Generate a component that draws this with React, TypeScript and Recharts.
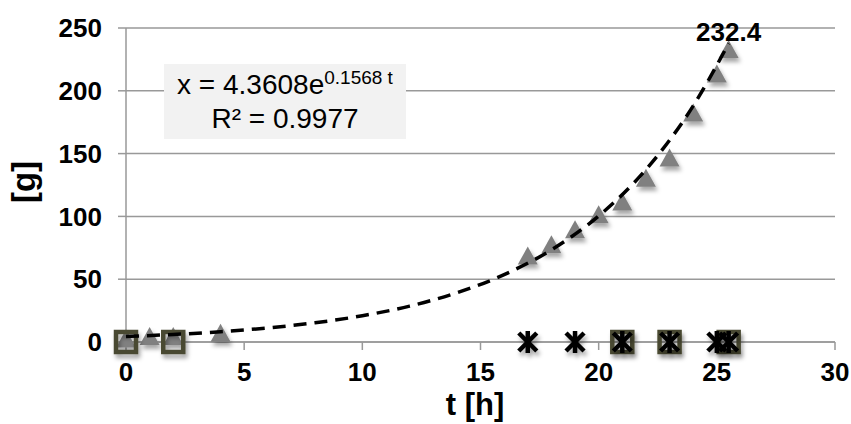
import React from 'react';
import { ScatterChart, Scatter, XAxis, YAxis, CartesianGrid, ReferenceDot } from 'recharts';

const triangleT = [0, 1, 2, 4, 17, 18, 19, 20, 21, 22, 23, 24, 25, 25.5];
const triangleG = [2, 4, 4, 6.5, 68, 77, 89, 101, 111, 130, 146, 182, 213, 232.4];

const squareT = [0, 2, 21, 23, 25.5];
const squareG = [0, 0, 0, 0, 0];

const starT = [17, 19, 21, 23, 25, 25.5];
const starG = [0, 0, 0, 0, 0, 0];

// dashed exponential trendline
const trendT = [0, 2, 4, 6, 8, 10, 12, 14, 16, 18, 20, 22, 24, 25.5];
const trendG = [4.4, 6, 8.2, 11.2, 15.3, 20.9, 28.6, 39.2, 53.6, 73.4, 100.3, 137.3, 188, 237.7];

const xTicks = [0, 5, 10, 15, 20, 25, 30];
const yTicks = [0, 50, 100, 150, 200, 250];

const peakT = 25.5;
const peakG = 232.4;

const FONT = '"Liberation Sans", Arial, sans-serif';

const toPoints = (ts: number[], gs: number[]) => ts.map((t, i) => ({ t, g: gs[i] }));

const triangleData = toPoints(triangleT, triangleG);
const squareData = toPoints(squareT, squareG);
const starData = toPoints(starT, starG);
const trendData = toPoints(trendT, trendG);

const Triangle = (props: any) => {
  const { cx, cy } = props;
  return (
    <polygon
      points={`${cx},${cy - 10} ${cx + 10},${cy + 8} ${cx - 10},${cy + 8}`}
      fill="#808080"
      filter="url(#mkShadow)"
    />
  );
};

const Square = (props: any) => {
  const { cx, cy } = props;
  return (
    <rect
      x={cx - 10}
      y={cy - 10}
      width={20}
      height={20}
      fill="none"
      stroke="#4a4a30"
      strokeWidth={4.5}
      filter="url(#mkShadow)"
    />
  );
};

const Star = (props: any) => {
  const { cx, cy } = props;
  return (
    <g stroke="#000" strokeWidth={4.5} filter="url(#mkShadow)">
      <line x1={cx - 9} y1={cy - 9} x2={cx + 9} y2={cy + 9} />
      <line x1={cx - 9} y1={cy + 9} x2={cx + 9} y2={cy - 9} />
      <line x1={cx} y1={cy - 11} x2={cx} y2={cy + 11} />
    </g>
  );
};

const NoDot = () => <g />;

export default function App() {
  const tick = { fill: '#000', fontSize: 26, fontWeight: 'bold', fontFamily: FONT };
  return (
    <div style={{ position: 'absolute', left: 0, top: 0, width: 851, height: 424, background: '#fff' }}>
      <svg width={0} height={0} style={{ position: 'absolute' }}>
        <defs>
          <filter id="mkShadow" x="-60%" y="-60%" width="220%" height="220%">
            <feDropShadow dx="2" dy="4" stdDeviation="2" floodColor="#000" floodOpacity="0.35" />
          </filter>
        </defs>
      </svg>
      <ScatterChart width={851} height={424} margin={{ top: 28, right: 16, bottom: 0, left: 0 }}>
        <CartesianGrid vertical={false} stroke="#999" strokeWidth={1.5} />
        <XAxis
          type="number"
          dataKey="t"
          domain={[0, 30]}
          ticks={xTicks}
          height={82}
          tick={tick}
          tickSize={8}
          tickMargin={13}
          axisLine={{ stroke: '#999', strokeWidth: 1.5 }}
          tickLine={{ stroke: '#999', strokeWidth: 1.5 }}
        />
        <YAxis
          type="number"
          dataKey="g"
          domain={[0, 250]}
          ticks={yTicks}
          width={126}
          tick={tick}
          tickSize={8}
          tickMargin={16}
          axisLine={{ stroke: '#999', strokeWidth: 1.5 }}
          tickLine={{ stroke: '#999', strokeWidth: 1.5 }}
        />
        <Scatter data={triangleData} shape={Triangle} isAnimationActive={false} />
        <Scatter data={squareData} shape={Square} isAnimationActive={false} />
        <Scatter data={starData} shape={Star} isAnimationActive={false} />
        <Scatter
          data={trendData}
          shape={NoDot}
          line={{ stroke: '#000', strokeWidth: 3.5, strokeDasharray: '13 8' }}
          lineJointType="monotoneX"
          isAnimationActive={false}
        />
        <ReferenceDot
          x={peakT}
          y={peakG}
          r={0}
          fill="none"
          stroke="none"
          label={{
            content: (p: any) => {
              const vb = p.viewBox || {};
              const x = (vb.x || 0) + (vb.width || 0) / 2;
              const y = (vb.y || 0) + (vb.height || 0) / 2;
              return (
                <text x={x} y={y - 9} textAnchor="middle" fontFamily={FONT} fontSize={26} fontWeight="bold" fill="#000">
                  {peakG}
                </text>
              );
            },
          }}
        />
      </ScatterChart>

      <svg width={851} height={424} style={{ position: 'absolute', left: 0, top: 0, pointerEvents: 'none' }}>
        <text x={475} y={415} textAnchor="middle" fontFamily={FONT} fontSize={31} fontWeight="bold" fill="#000">
          t [h]
        </text>
        <text
          x={35}
          y={182}
          transform="rotate(-90, 35, 182)"
          textAnchor="middle"
          fontFamily={FONT}
          fontSize={33}
          fontWeight="bold"
          fill="#000"
        >
          [g]
        </text>
      </svg>

      <div
        style={{
          position: 'absolute',
          left: 164,
          top: 64,
          width: 242,
          height: 75,
          background: '#f2f2f2',
          fontFamily: FONT,
          color: '#000',
          textAlign: 'center',
        }}
      >
        <div style={{ position: 'absolute', left: 0, right: 0, top: 6, fontSize: 28, lineHeight: '30px', whiteSpace: 'nowrap' }}>
          x = 4.3608e<span style={{ fontSize: 19, position: 'relative', top: -10 }}>0.1568 t</span>
        </div>
        <div style={{ position: 'absolute', left: 0, right: 0, top: 40, fontSize: 28, lineHeight: '30px', whiteSpace: 'nowrap' }}>
          R² = 0.9977
        </div>
      </div>
    </div>
  );
}
